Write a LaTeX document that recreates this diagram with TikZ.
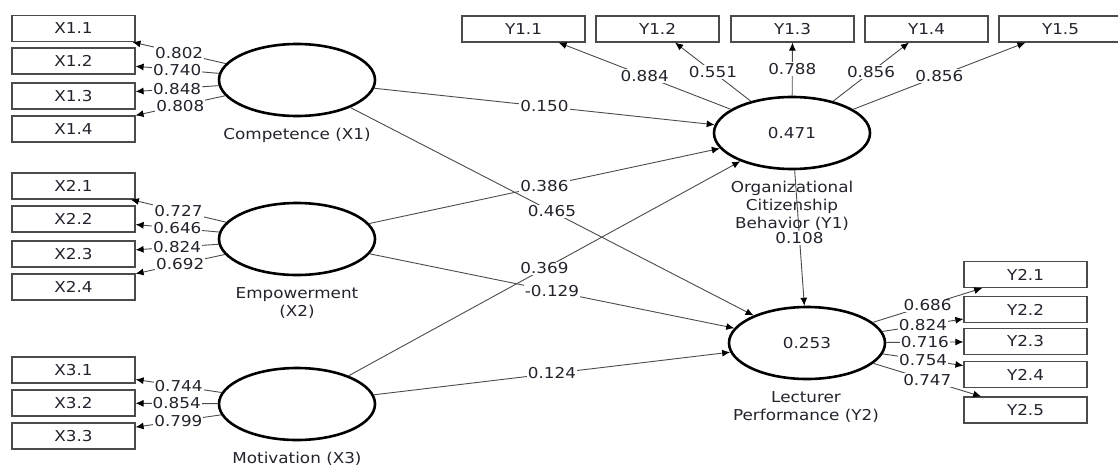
\documentclass[tikz,border=0pt]{standalone}
\usepackage{fontspec}
\setmainfont{DejaVu Sans}[FakeStretch=1.12]
\usetikzlibrary{shapes.geometric,arrows.meta}
\definecolor{edgegray}{RGB}{75,75,75}
\definecolor{txtdark}{RGB}{35,35,45}

\begin{document}
\begin{tikzpicture}[x=1pt,y=-1pt,font=\fontsize{15}{18}\selectfont,text=txtdark,
  ind/.style={draw=edgegray,line width=1.2pt,minimum width=123pt,minimum height=26pt,inner sep=0pt},
  lv/.style={ellipse,draw=black,line width=2.6pt,minimum width=156pt,minimum height=72pt,inner sep=0pt},
  ld/.style={draw=edgegray,line width=0.9pt,-{Latex[length=8pt,width=7pt,color=black]}},
  val/.style={fill=white,inner sep=1pt}]

\useasboundingbox (0,0) rectangle (1118,466);

% latent variables
\node[lv] (X1) at (297,80) {};
\node[lv] (X2) at (297,239) {};
\node[lv] (X3) at (297,404) {};
\node[lv] (Y1) at (792,133) {0.471};
\node[lv] (Y2) at (807,343) {0.253};
\node (nX1) at (297,135) {Competence (X1)};
\node[align=center] (nX2) at (297,303) {Empowerment\\(X2)};
\node (nX3) at (297,459) {Motivation (X3)};
\node[align=center] (nY1) at (792,206) {Organizational\\Citizenship\\Behavior (Y1)};
\node[align=center] (nY2) at (806,407) {Lecturer\\Performance (Y2)};

% indicators X
\node[ind] (x11) at (73.5,28.5) {X1.1};
\node[ind] (x12) at (73.5,61) {X1.2};
\node[ind] (x13) at (73.5,96) {X1.3};
\node[ind] (x14) at (73.5,129) {X1.4};
\node[ind] (x21) at (73.5,186) {X2.1};
\node[ind] (x22) at (73.5,219) {X2.2};
\node[ind] (x23) at (73.5,254) {X2.3};
\node[ind] (x24) at (73.5,287) {X2.4};
\node[ind] (x31) at (73.5,370) {X3.1};
\node[ind] (x32) at (73.5,403) {X3.2};
\node[ind] (x33) at (73.5,436) {X3.3};
% indicators Y
\node[ind] (y11) at (523.5,29) {Y1.1};
\node[ind] (y12) at (657.5,29) {Y1.2};
\node[ind] (y13) at (792.5,29) {Y1.3};
\node[ind] (y14) at (926.5,29) {Y1.4};
\node[ind] (y15) at (1060.5,29) {Y1.5};
\node[ind] (y21) at (1025.5,274.5) {Y2.1};
\node[ind] (y22) at (1025.5,309.5) {Y2.2};
\node[ind] (y23) at (1025.5,341.5) {Y2.3};
\node[ind] (y24) at (1025.5,374.5) {Y2.4};
\node[ind] (y25) at (1025.5,410) {Y2.5};

% loadings
\draw[ld] (X1) -- (x11) node[midway,val]{0.802};
\draw[ld] (X1) -- (x12) node[midway,val]{0.740};
\draw[ld] (X1) -- (x13) node[midway,val]{0.848};
\draw[ld] (X1) -- (x14) node[midway,val]{0.808};
\draw[ld] (X2) -- (x21) node[midway,val]{0.727};
\draw[ld] (X2) -- (x22) node[midway,val]{0.646};
\draw[ld] (X2) -- (x23) node[midway,val]{0.824};
\draw[ld] (X2) -- (x24) node[midway,val]{0.692};
\draw[ld] (X3) -- (x31) node[midway,val]{0.744};
\draw[ld] (X3) -- (x32) node[midway,val]{0.854};
\draw[ld] (X3) -- (x33) node[midway,val]{0.799};
\draw[ld] (Y1) -- (y11) node[midway,val]{0.884};
\draw[ld] (Y1) -- (y12) node[midway,val]{0.551};
\draw[ld] (Y1) -- (y13) node[midway,val]{0.788};
\draw[ld] (Y1) -- (y14) node[midway,val]{0.856};
\draw[ld] (Y1) -- (y15) node[midway,val]{0.856};
\draw[ld] (Y2) -- (y21) node[midway,val]{0.686};
\draw[ld] (Y2) -- (y22) node[midway,val]{0.824};
\draw[ld] (Y2) -- (y23) node[midway,val]{0.716};
\draw[ld] (Y2) -- (y24) node[midway,val]{0.754};
\draw[ld] (Y2) -- (y25) node[midway,val]{0.747};

% paths
\draw[ld] (X1) -- (Y1) node[midway,val]{0.150};
\draw[ld] (X2) -- (Y1) node[midway,val]{0.386};
\draw[ld] (X1) -- (Y2) node[midway,val]{0.465};
\draw[ld] (X3) -- (Y1) node[midway,val]{0.369};
\draw[ld] (X2) -- (Y2) node[midway,val]{-0.129};
\draw[ld] (X3) -- (Y2) node[midway,val]{0.124};
\draw[ld] (Y1) -- (Y2) node[midway,val]{0.108};

\end{tikzpicture}
\end{document}
